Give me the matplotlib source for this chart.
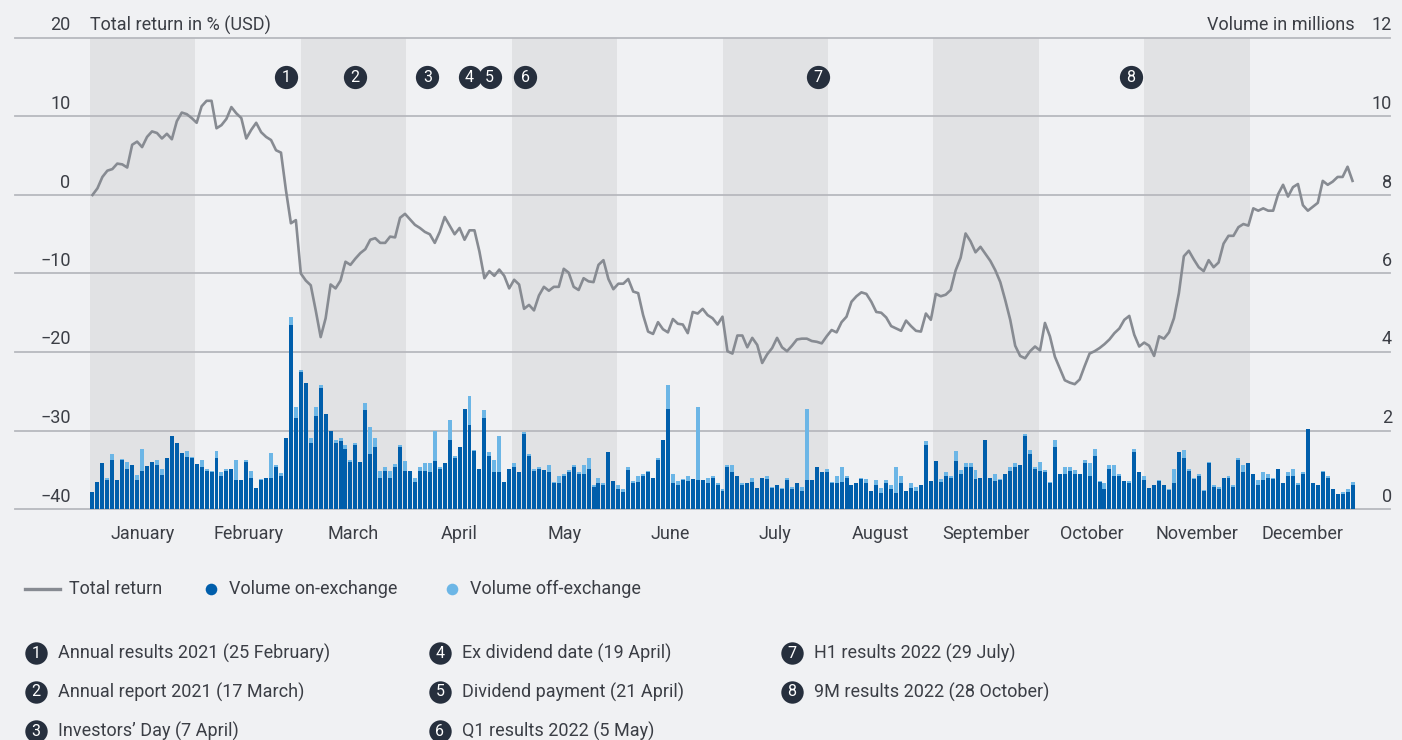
import numpy as np
import matplotlib.pyplot as plt

plt.rcParams['font.family'] = ['Roboto', 'DejaVu Sans']

months = ['January', 'February', 'March', 'April', 'May', 'June', 'July',
          'August', 'September', 'October', 'November', 'December']

# total return in % (USD), one value per trading day
total_return = [
    0, 0.85, 2.3, 3.1, 3.3, 4.0, 3.9, 3.5, 6.4, 6.8, 6.1, 7.4, 8.1, 7.9, 7.2, 7.8, 7.1, 9.4, 10.5, 10.3, 9.8, 9.2,
    11.3, 12.0, 12.0, 8.5, 8.9, 9.7, 11.2, 10.4, 9.8, 7.2, 8.3, 9.2, 8.0, 7.4, 7.0, 5.7, 5.4, 0.6, -3.6, -3.2, -10.0,
    -10.9, -11.5, -14.7, -18.1, -15.7, -11.4, -11.9, -10.9, -8.5, -8.9, -8.1, -7.4, -6.9, -5.7, -5.5, -6.1, -6.1, -5.3, -5.4, -2.9, -2.4,
    -3.1, -3.8, -4.2, -4.7, -5.0, -6.1, -4.7, -2.8, -3.9, -5.0, -4.2, -5.7, -4.5, -4.5, -7.2, -10.6, -9.7, -10.3, -9.5, -10.3, -11.9,
    -10.8, -11.4, -14.5, -14.0, -14.7, -12.8, -11.7, -12.2, -11.7, -11.7, -9.4, -9.9, -11.7, -12.1, -10.6, -11.0, -11.1, -8.9, -8.3, -10.7, -12.0, -11.3,
    -11.3, -10.7, -12.3, -12.5, -15.3, -17.4, -17.7, -16.2, -17.1, -17.5, -15.8, -16.4, -16.5, -17.6, -14.9, -15.1, -14.5, -15.3, -15.7, -16.5, -15.5,
    -19.9, -20.2, -17.9, -17.9, -19.4, -18.2, -19.1, -21.4, -20.3, -19.5, -18.2, -19.4, -19.9, -19.2, -18.4, -18.3, -18.3, -18.6, -18.7, -18.9, -18.0,
    -17.2, -17.5, -16.2, -15.5, -13.6, -12.9, -12.4, -12.6, -13.6, -14.9, -15.0, -15.6, -16.7, -17.0, -17.3, -16.0, -16.7, -17.3, -17.4, -15.1, -15.9,
    -12.6, -12.9, -12.7, -12.1, -9.6, -8.0, -4.9, -5.9, -7.3, -6.6, -7.5, -8.4, -9.6, -11.1, -13.4, -15.9, -19.2, -20.5, -20.8, -19.9, -19.3, -19.8,
    -16.3, -18.0, -20.6, -22.1, -23.6, -23.9, -24.1, -23.5, -21.8, -20.2, -19.9, -19.5, -19.0, -18.4, -17.6, -17.0, -15.9, -15.4, -17.8, -19.3,
    -18.8, -19.2, -20.5, -18.0, -18.3, -17.5, -15.7, -12.5, -7.8, -7.1, -8.2, -9.2, -9.7, -8.3, -9.2, -8.6, -6.2, -5.2, -5.2, -4.1, -3.7, -3.9,
    -1.7, -2.0, -1.7, -2.0, -2.0, 0.1, 1.3, -0.2, 1.0, 1.4, -1.3, -2.0, -1.5, -1.0, 1.8, 1.3, 1.7, 2.3, 2.3, 3.6, 1.8,
]

# volume in millions
vol_on = [
    0.43, 0.69, 1.16, 0.75, 1.24, 0.75, 1.26, 1.03, 1.12, 0.73, 0.98, 1.09, 1.19, 1.12, 0.86, 1.30, 1.85, 1.67, 1.42, 1.32,
    1.29, 1.14, 1.06, 0.96, 0.93, 1.31, 0.83, 0.96, 1.01, 0.75, 0.75, 1.19, 0.80, 0.53, 0.73, 0.80, 0.78, 1.06, 0.83, 1.82,
    4.69, 2.33, 3.50, 3.22, 1.69, 2.38, 3.09, 2.43, 2.00, 1.67, 1.72, 1.54, 1.19, 1.64, 1.21, 2.51, 1.39, 1.59, 0.78, 0.96,
    0.78, 1.08, 1.57, 0.98, 0.98, 0.70, 0.98, 0.98, 0.93, 1.23, 1.03, 1.18, 1.77, 1.31, 1.59, 2.56, 2.15, 1.49, 1.03, 2.33,
    1.36, 0.93, 0.95, 0.70, 1.03, 1.08, 0.93, 1.92, 1.34, 0.98, 1.03, 1.00, 0.93, 0.65, 0.67, 0.83, 0.93, 1.06, 0.90, 0.88,
    1.03, 0.57, 0.67, 0.62, 1.46, 0.72, 0.52, 0.44, 1.00, 0.67, 0.70, 0.83, 0.95, 0.80, 1.26, 1.77, 2.56, 0.67, 0.62, 0.75,
    0.72, 0.77, 0.75, 0.75, 0.65, 0.80, 0.60, 0.47, 1.08, 0.93, 0.83, 0.60, 0.65, 0.70, 0.54, 0.80, 0.77, 0.54, 0.60, 0.52,
    0.75, 0.52, 0.65, 0.47, 0.75, 0.75, 1.08, 0.93, 0.93, 0.65, 0.67, 0.70, 0.80, 0.62, 0.67, 0.77, 0.67, 0.47, 0.62, 0.42,
    0.65, 0.52, 0.42, 0.67, 0.47, 0.54, 0.47, 0.62, 1.62, 0.72, 1.23, 0.70, 0.83, 0.80, 1.23, 0.90, 1.06, 1.06, 0.77, 0.80,
    1.77, 0.80, 0.72, 0.75, 0.88, 0.98, 1.06, 1.11, 1.87, 1.39, 1.03, 0.98, 0.93, 0.65, 1.59, 0.88, 0.90, 0.98, 0.88, 0.90,
    1.18, 0.85, 1.34, 0.70, 0.52, 1.03, 0.83, 0.85, 0.72, 0.67, 1.44, 0.95, 0.75, 0.54, 0.62, 0.72, 0.60, 0.49, 0.65, 1.44,
    1.31, 0.98, 0.77, 0.83, 0.47, 1.16, 0.57, 0.52, 0.80, 0.80, 0.57, 1.26, 0.93, 1.16, 0.90, 0.62, 0.75, 0.80, 0.77, 1.03,
    0.65, 0.83, 0.85, 0.60, 0.90, 2.05, 0.67, 0.62, 0.93, 0.80, 0.52, 0.37, 0.39, 0.44, 0.62,
]
vol_off = [
    0, 0, 0, 0.05, 0.15, 0, 0.02, 0.16, 0, 0.13, 0.54, 0, 0, 0.12, 0.17, 0, 0.02, 0, 0, 0.15,
    0.03, 0, 0.18, 0.07, 0.05, 0.18, 0.10, 0.05, 0, 0.49, 0, 0.05, 0.18, 0, 0.03, 0, 0.64, 0.05, 0.08, 0,
    0.21, 0.28, 0.03, 0, 0.13, 0.23, 0.08, 0, 0, 0.08, 0.10, 0.08, 0.07, 0.03, 0, 0.20, 0.71, 0.23, 0.18, 0.12,
    0.18, 0.06, 0.05, 0.25, 0, 0.10, 0.08, 0.20, 0.23, 0.77, 0.03, 0, 0.51, 0.05, 0, 0, 0.72, 0.02, 0, 0.18,
    0.10, 0.33, 0.90, 0, 0, 0.08, 0.02, 0.03, 0.07, 0.05, 0.03, 0, 0.20, 0.05, 0.16, 0.05, 0.07, 0.05, 0.03, 0.25,
    0.28, 0.05, 0.13, 0.03, 0, 0, 0.10, 0.08, 0.06, 0.05, 0.15, 0.05, 0.03, 0, 0.05, 0, 0.61, 0.21, 0.10, 0.02,
    0.11, 0, 1.84, 0, 0.15, 0.03, 0.05, 0.05, 0.03, 0.18, 0, 0.05, 0, 0.10, 0, 0, 0.06, 0.03, 0, 0.02,
    0.05, 0.05, 0, 0.10, 1.81, 0, 0, 0, 0.10, 0.05, 0.16, 0.36, 0.05, 0, 0, 0.03, 0.10, 0, 0.13, 0.12,
    0.10, 0.08, 0.66, 0.16, 0, 0.11, 0.10, 0, 0.10, 0, 0, 0.07, 0.10, 0.03, 0.26, 0.10, 0.10, 0.10, 0.23, 0,
    0, 0, 0.16, 0.02, 0, 0.08, 0.10, 0.02, 0.05, 0.12, 0.03, 0.23, 0.07, 0.05, 0.18, 0, 0.16, 0.10, 0.12, 0,
    0.08, 0.31, 0.20, 0.02, 0.13, 0.10, 0.28, 0.03, 0, 0.05, 0.10, 0, 0.10, 0, 0, 0.03, 0.02, 0.03, 0.38, 0.02,
    0.20, 0.05, 0.03, 0.05, 0.02, 0.05, 0.05, 0.05, 0, 0.05, 0.05, 0.03, 0.18, 0, 0, 0.13, 0.18, 0.08, 0.03, 0,
    0.02, 0.10, 0.18, 0.05, 0.03, 0, 0, 0, 0.05, 0.03, 0, 0, 0.05, 0.08, 0.08,
]

# events: (month, day) and their labels
event_dates = [(2, 25), (3, 17), (4, 7), (4, 19), (4, 21), (5, 5), (7, 29), (10, 28)]
event_labels = ['Annual results 2021 (25 February)', 'Annual report 2021 (17 March)',
                'Investors\u2019 Day (7 April)', 'Ex dividend date (19 April)',
                'Dividend payment (21 April)', 'Q1 results 2022 (5 May)',
                'H1 results 2022 (29 July)', '9M results 2022 (28 October)']
days_in_month = [31, 28, 31, 30, 31, 30, 31, 31, 30, 31, 30, 31]

BG = '#f0f1f3'
BAND = '#e1e2e4'
GRID = '#b7b9be'
TXT = '#3b3e45'
LINE = '#878b92'
DARK = '#005eab'
LIGHT = '#6cb6e6'
NAVY = '#262f3d'
FS = 13

W, H = 1402, 740
fig = plt.figure(figsize=(W / 100, H / 100), dpi=100, facecolor=BG)
ax = fig.add_axes([90 / W, 231 / H, 1265 / W, 471 / H])
ax.set_facecolor(BG)
ax.set_xlim(0, 12)
ax.set_ylim(0, 12)
ax2 = ax.twinx()
ax2.set_ylim(-40, 20)
ax2.patch.set_visible(False)

for a in (ax, ax2):
    for s in a.spines.values():
        s.set_visible(False)
    a.set_xticks([])
    a.set_yticks([])

# month bands
for k in range(0, 12, 2):
    ax.axvspan(k, k + 1, color=BAND, lw=0, zorder=0)

# gridlines run past the plot edges
for v in range(0, 13, 2):
    ax.axhline(v, xmin=-75 / 1265, xmax=1 + 35 / 1265, color=GRID, lw=1.3,
               zorder=1, clip_on=False)

n = len(vol_on)
x = (np.arange(n) + 0.5) * 12 / n
bw = 12 / n * 0.8
ax.bar(x, vol_on, bw, color=DARK, lw=0, zorder=2)
ax.bar(x, vol_off, bw, bottom=vol_on, color=LIGHT, lw=0, zorder=2)

xr = (np.arange(len(total_return)) + 0.5) * 12 / len(total_return)
ax2.plot(xr, total_return, color=LINE, lw=1.9, zorder=3, solid_joinstyle='round')

# axis labels sit above the gridlines
for v in range(-40, 21, 10):
    ax2.annotate(str(v).replace('-', '\u2212'), xy=(0, v), xycoords=('axes fraction', 'data'),
                 xytext=(-14, 9), textcoords='offset points', ha='right', va='center',
                 fontsize=FS, color=TXT)
for v in range(0, 13, 2):
    ax.annotate(str(v), xy=(1, v), xycoords=('axes fraction', 'data'),
                xytext=(26.5, 9), textcoords='offset points', ha='right', va='center',
                fontsize=FS, color=TXT)
ax.annotate('Total return in % (USD)', xy=(0, 1), xycoords='axes fraction', xytext=(0, 9),
            textcoords='offset points', ha='left', va='center', fontsize=FS, color=TXT)
ax.annotate('Volume in millions', xy=(1, 1), xycoords='axes fraction', xytext=(0, 9),
            textcoords='offset points', ha='right', va='center', fontsize=FS, color=TXT)

for k, m in enumerate(months):
    ax.annotate(m, xy=(k + 0.5, 0), xycoords=('data', 'axes fraction'), xytext=(0, -18),
                textcoords='offset points', ha='center', va='center', fontsize=FS, color=TXT)

# event markers, nudged apart where they would overlap
ex = []
for mo, d in event_dates:
    pos = mo - 1 + (d - 1) / days_in_month[mo - 1]
    if ex and pos - ex[-1] < 0.19:
        pos = ex[-1] + 0.19
    ex.append(pos)
ax2.scatter(ex, [15] * len(ex), s=280, color=NAVY, lw=0, zorder=5, clip_on=False)
for i, e in enumerate(ex):
    ax2.text(e, 15, str(i + 1), color='white', ha='center', va='center', fontsize=11.5,
             zorder=6)

# legend and event list drawn in pixel space
lax = fig.add_axes([0, 0, 1, 1])
lax.set_xlim(0, W)
lax.set_ylim(H, 0)
lax.axis('off')

ly = 589
lax.plot([25, 60], [ly, ly], color=LINE, lw=2.4)
lax.text(69, ly, 'Total return', va='center', fontsize=FS, color=TXT)
lax.scatter([211], [ly], s=70, color=DARK, lw=0)
lax.text(229, ly, 'Volume on-exchange', va='center', fontsize=FS, color=TXT)
lax.scatter([452], [ly], s=70, color=LIGHT, lw=0)
lax.text(470, ly, 'Volume off-exchange', va='center', fontsize=FS, color=TXT)

col_x = [36, 440, 792]
row_y = [653, 692, 731]
for i, lab in enumerate(event_labels):
    cx = col_x[i // 3]
    cy = row_y[i % 3]
    lax.scatter([cx], [cy], s=260, color=NAVY, lw=0, clip_on=False)
    lax.text(cx, cy, str(i + 1), color='white', ha='center', va='center', fontsize=11.5)
    lax.text(cx + 22, cy, lab, va='center', fontsize=FS, color=TXT)

fig.savefig('out.png', dpi=100, facecolor=BG)
